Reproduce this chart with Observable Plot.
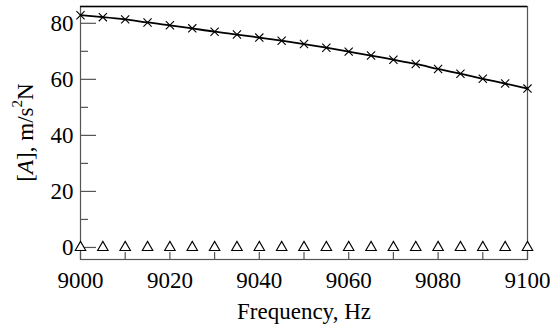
<!DOCTYPE html>
<html>
<head>
<meta charset="utf-8">
<script src="https://cdn.jsdelivr.net/npm/d3@7"></script>
<script src="https://cdn.jsdelivr.net/npm/@observablehq/plot@0.6"></script>
<style>
  html, body { margin: 0; padding: 0; background: #fff; }
  #chart { width: 550px; height: 327px; }
  #chart svg text, #chart svg tspan { font-family: "Liberation Serif", "DejaVu Serif" !important; }
</style>
</head>
<body>
<div id="chart"></div>
<script>
const frequency = [9000, 9005, 9010, 9015, 9020, 9025, 9030, 9035, 9040, 9045, 9050,
                   9055, 9060, 9065, 9070, 9075, 9080, 9085, 9090, 9095, 9100];
const amplitude = [82.9, 82.2, 81.4, 80.3, 79.3, 78.2, 77.0, 76.0, 74.9, 73.8, 72.6,
                   71.3, 69.9, 68.5, 67.0, 65.5, 63.7, 62.0, 60.2, 58.5, 56.7];
const baseline = [0, 0, 0, 0, 0, 0, 0, 0, 0, 0, 0, 0, 0, 0, 0, 0, 0, 0, 0, 0, 0];
const xTickLabels = [9000, 9020, 9040, 9060, 9080, 9100];
const xTicks = [9000, 9010, 9020, 9030, 9040, 9050, 9060, 9070, 9080, 9090, 9100];
const yTickLabels = [0, 20, 40, 60, 80];
const yMinorTicks = [10, 30, 50, 70];
const xDomain = [9000, 9100];
const yDomain = [-4.3, 86];

const FONT = "'Liberation Serif', 'DejaVu Serif'";

const curve = frequency.map((f, i) => ({f, a: amplitude[i]}));
const base = frequency.map((f, i) => ({f, a: baseline[i]}));

const plot = Plot.plot({
  width: 550,
  height: 327,
  marginLeft: 80,
  marginRight: 23,
  marginTop: 6,
  marginBottom: 68,
  style: {background: "#fff", color: "#000"},
  x: {domain: xDomain},
  y: {domain: yDomain},
  marks: [
    Plot.frame({stroke: "#555", strokeWidth: 1.2}),
    Plot.ruleY([yDomain[1]], {stroke: "#000", strokeWidth: 1.5}),
    // inward ticks
    Plot.axisY(yTickLabels, {tickSize: -16, text: null, stroke: "#555", strokeWidth: 1.2, label: null}),
    Plot.axisY(yMinorTicks, {tickSize: -8, text: null, stroke: "#555", strokeWidth: 1.2, label: null}),
    Plot.axisX(xTicks, {tickSize: -7, text: null, stroke: "#555", strokeWidth: 1.2, label: null}),
    // labels
    Plot.axisY(yTickLabels, {tickSize: 0, tickPadding: 7, label: null, fontSize: 23}),
    Plot.axisX(xTickLabels, {tickSize: 0, tickPadding: 12, label: null, fontSize: 23, tickFormat: d => String(d)}),
    Plot.text(["Frequency, Hz"], {frameAnchor: "bottom", dy: 52, fontSize: 23, lineAnchor: "middle"}),
    // data
    Plot.line(curve, {x: "f", y: "a", curve: "natural", stroke: "#000", strokeWidth: 1.8}),
    Plot.dot(curve, {x: "f", y: "a", symbol: "times", r: 3.8, stroke: "#000", strokeWidth: 1.1}),
    Plot.dot(base, {x: "f", y: "a", symbol: "triangle", r: 3.9, stroke: "#000", fill: "#fff", strokeWidth: 1.1})
  ]
});

const svg = d3.select(plot);
svg.style("font-family", FONT);

// Y axis label with italic A and superscript
const cx = 28, cy = (6 + (327 - 68)) / 2;
const lab = svg.append("text")
  .attr("transform", `translate(${cx},${cy}) rotate(-90)`)
  .attr("text-anchor", "middle")
  .attr("dominant-baseline", "middle")
  .attr("font-size", 23)
  .attr("fill", "#000");
lab.append("tspan").text("[");
lab.append("tspan").attr("font-style", "italic").text("A");
lab.append("tspan").text("], m/s");
lab.append("tspan").attr("font-size", 15).attr("dy", -9).text("2");
lab.append("tspan").attr("dy", 9).text("N");

document.getElementById("chart").appendChild(plot);
</script>
</body>
</html>
